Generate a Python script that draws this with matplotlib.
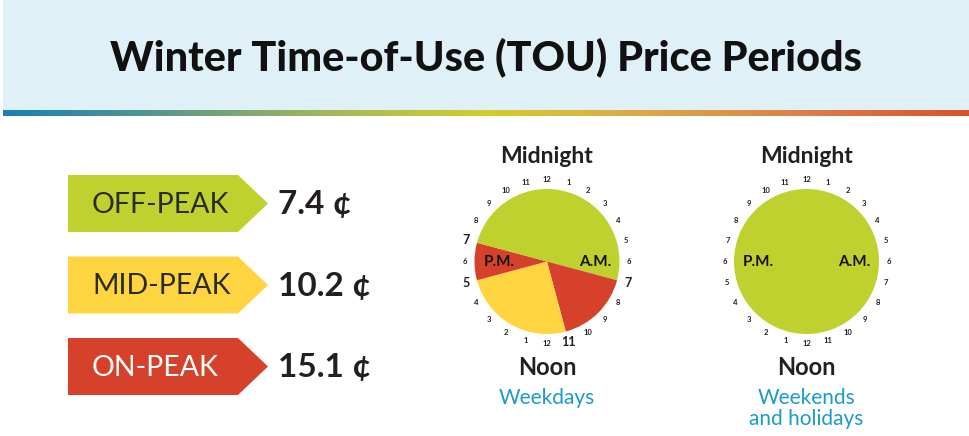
import numpy as np
import matplotlib.pyplot as plt
from matplotlib.patches import Rectangle, Polygon
from matplotlib.colors import LinearSegmentedColormap

plt.rcParams['font.family'] = ['Lato', 'DejaVu Sans']

title = "Winter Time-of-Use (TOU) Price Periods"
periods = ["OFF-PEAK", "MID-PEAK", "ON-PEAK"]
prices = [7.4, 10.2, 15.1]
period_colors = ["#bfd12f", "#fed541", "#d5412a"]
label_colors = ["#2b2b2b", "#2b2b2b", "white"]

# hours from midnight, going clockwise
weekday_hours = [7, 4, 6, 2, 5]
weekday_kind = [0, 2, 1, 2, 0]
weekend_hours = [24]
weekend_kind = [0]
bold_hours = [7, 11, 17, 19]

W, H = 969, 436
fig = plt.figure(figsize=(W / 100, H / 100), dpi=100)
ax = fig.add_axes([0, 0, 1, 1])

# banner + gradient stripe
ax.add_patch(Rectangle((3, 0), W - 3, 110, color="#dff0f7", lw=0))
cmap = LinearSegmentedColormap.from_list(
    "stripe", ["#1581b7", "#5c9889", "#a3b75a", "#d3cd2c", "#dca748", "#dc7f45", "#d9512a"])
ax.imshow(np.linspace(0, 1, 500)[None, :], cmap=cmap, aspect="auto",
          extent=(3, W, 116, 110))
ax.text(486, 57, title, ha="center", va="center", fontsize=29.8,
        fontweight="black", color="#111111")

# period arrows
y0 = 203.5
for i, (name, price) in enumerate(zip(periods, prices)):
    yc = y0 + i * 81.5
    ax.add_patch(Polygon([(68, yc - 28.5), (238, yc - 28.5), (268, yc),
                          (238, yc + 28.5), (68, yc + 28.5)],
                         closed=True, color=period_colors[i], lw=0))
    ax.text(92, yc + 1, name, ha="left", va="center", fontsize=20.5,
            fontweight="normal", color=label_colors[i])
    ax.text(278, yc + 1, f"{price} ¢", ha="left", va="center", fontsize=24,
            fontweight="bold", color="#231f20")

ax.set_xlim(0, W)
ax.set_ylim(H, 0)
ax.axis("off")


def clock(cx, cy, hours, kinds, captions):
    R = 72.5
    L = 1.4
    side = 2 * L * R
    cax = fig.add_axes([(cx - side / 2) / W, (H - cy - side / 2) / H, side / W, side / H])
    cax.pie(hours, colors=[period_colors[k] for k in kinds], startangle=90,
            counterclock=False, radius=1, frame=True,
            wedgeprops=dict(lw=0))
    for h in range(24):
        lab = 12 if h % 12 == 0 else h % 12
        ang = np.deg2rad(90 - h * 15)
        big = hours is weekday_hours and h in bold_hours
        r = 1.15 if big else 1.13
        cax.text(r * np.cos(ang), r * np.sin(ang), str(lab), ha="center", va="center",
                 fontsize=9 if big else 5.5, fontweight="bold", color="#231f20")
    cax.text(-0.66, 0.0, "P.M.", ha="center", va="center", fontsize=11,
             fontweight="bold", color="#111111")
    cax.text(0.66, 0.0, "A.M.", ha="center", va="center", fontsize=11,
             fontweight="bold", color="#111111")
    cax.set_xlim(-L, L)
    cax.set_ylim(-L, L)
    cax.set_aspect("equal")
    cax.axis("off")
    ax.text(cx, 156, "Midnight", ha="center", va="center", fontsize=16.5,
            fontweight="bold", color="#231f20")
    ax.text(cx, 367, "Noon", ha="center", va="center", fontsize=17,
            fontweight="bold", color="#231f20")
    for j, c in enumerate(captions):
        ax.text(cx, 398 + j * 21, c, ha="center", va="center", fontsize=15,
                color="#1c9bcb")


clock(547, 261.5, weekday_hours, weekday_kind, ["Weekdays"])
clock(806.5, 261.5, weekend_hours, weekend_kind, ["Weekends", "and holidays"])

fig.savefig("out.png", dpi=100)
